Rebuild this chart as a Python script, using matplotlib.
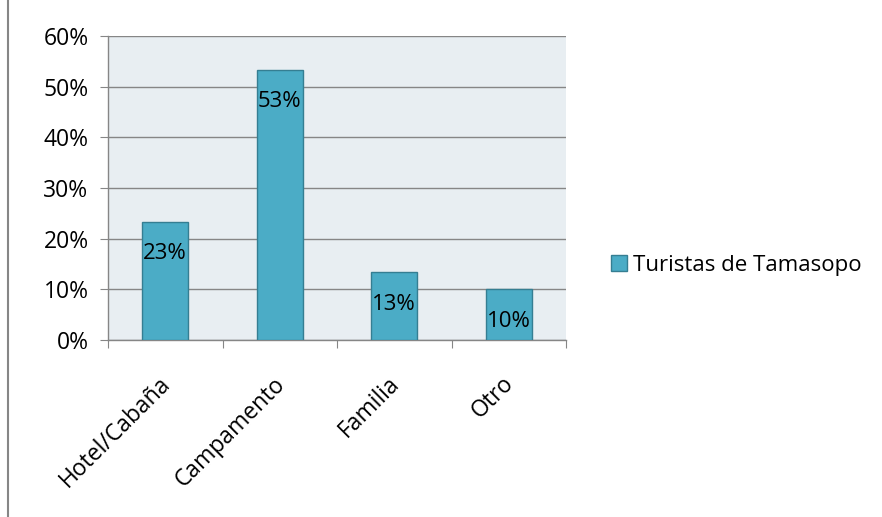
import matplotlib.pyplot as plt
from matplotlib.lines import Line2D
from matplotlib.ticker import PercentFormatter
from matplotlib.transforms import ScaledTranslation
import numpy as np

plt.rcParams['font.family'] = ['Open Sans', 'DejaVu Sans']

categorias = ["Hotel/Cabaña", "Campamento", "Familia", "Otro"]
valores = [23.33, 53.33, 13.33, 10.0]
etiquetas = ["23%", "53%", "13%", "10%"]
serie = "Turistas de Tamasopo"

fig = plt.figure(figsize=(8.82, 5.17), dpi=100)
ax = fig.add_axes([108 / 882, 1 - 340 / 517, 458 / 882, 304 / 517])

x = np.arange(len(categorias))
bars = ax.bar(x, valores, width=0.4, color="#4BACC6", edgecolor="#357E92",
              linewidth=1, label=serie, zorder=3)

for b, t in zip(bars, etiquetas):
    ax.annotate(t, (b.get_x() + b.get_width() / 2, b.get_height()),
                xytext=(0, -23), textcoords="offset points",
                ha="center", va="center", fontsize=16, zorder=4)

ax.set_xlim(-0.5, len(categorias) - 0.5)
ax.set_ylim(0, 60)
ax.set_yticks(range(0, 61, 10))
ax.yaxis.set_major_formatter(PercentFormatter(decimals=0))
ax.set_facecolor("#E8EEF2")
ax.grid(axis="y", color="#868686", linewidth=1, zorder=0)

ax.set_xticks(np.arange(-0.5, len(categorias), 1))
ax.set_xticklabels([])
ax.set_xticks(x, minor=True)
ax.set_xticklabels(categorias, minor=True, rotation=45, ha="right",
                   rotation_mode="anchor", fontsize=16.5)
ax.tick_params(axis="x", which="minor", length=0, pad=18)
ax.tick_params(axis="x", which="major", length=6, color="#868686")
ax.tick_params(axis="y", length=6, color="#868686", labelsize=16.5, pad=8)

# desplazar etiquetas del eje x un poco hacia abajo e izquierda
offset = ScaledTranslation(-7 / 100, -7 / 100, fig.dpi_scale_trans)
for lbl in ax.get_xticklabels(minor=True):
    lbl.set_transform(lbl.get_transform() + offset)

for s in ["top", "right"]:
    ax.spines[s].set_visible(False)
for s in ["left", "bottom"]:
    ax.spines[s].set_color("#868686")
    ax.spines[s].set_linewidth(1)

# borde izquierdo del area del grafico
fig.add_artist(Line2D([8 / 882, 8 / 882], [0, 1], color="#868686", linewidth=1.5))

fig.legend(loc="center left", bbox_to_anchor=(591 / 882, 1 - 265 / 517),
           frameon=False, fontsize=16, handlelength=0.7, handleheight=0.7,
           handletextpad=0.3)

fig.savefig("out.png", dpi=100)
